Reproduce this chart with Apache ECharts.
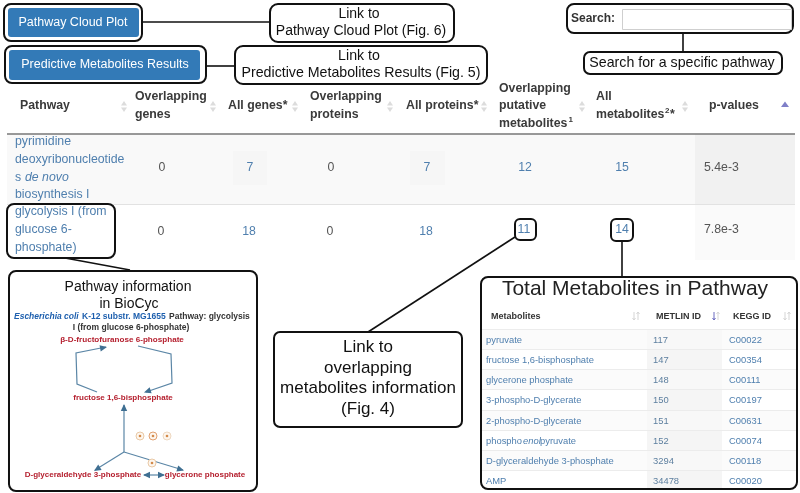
<!DOCTYPE html>
<html>
<head>
<meta charset="utf-8">
<style>html,body{margin:0;padding:0;background:#fff}#c{width:800px;height:493px}</style>
<script src="https://cdn.jsdelivr.net/npm/echarts@6/dist/echarts.min.js"></script>
</head>
<body>
<div id="c"></div>
<script>
// ---------- data ----------
const buttonLabels = ['Pathway Cloud Plot', 'Predictive Metabolites Results'];
const calloutCloud = ['Link to', 'Pathway Cloud Plot (Fig. 6)'];
const calloutPredictive = ['Link to', 'Predictive Metabolites Results (Fig. 5)'];
const calloutOverlap = ['Link to', 'overlapping', 'metabolites information', '(Fig. 4)'];
const searchLabel = 'Search:';
const searchHint = 'Search for a specific pathway';
const overlappingGenes = ['0', '0'];
const allGenes = ['7', '18'];
const overlappingProteins = ['0', '0'];
const allProteins = ['7', '18'];
const overlappingMetabolites = ['12', '11'];
const allMetabolites = ['15', '14'];
const pValues = ['5.4e-3', '7.8e-3'];
const biocycTitle = ['Pathway information', 'in BioCyc'];
const totalTitle = 'Total Metabolites in Pathway';
const metaboliteHeaders = ['Metabolites', 'METLIN ID', 'KEGG ID'];
const metaboliteNames = ['pyruvate', 'fructose 1,6-bisphosphate', 'glycerone phosphate', '3-phospho-D-glycerate', '2-phospho-D-glycerate', 'phosphoenolpyruvate', 'D-glyceraldehyde 3-phosphate', 'AMP'];
const metlinIds = ['117', '147', '148', '150', '151', '152', '3294', '34478'];
const keggIds = ['C00022', 'C00354', 'C00111', 'C00197', 'C00631', 'C00074', 'C00118', 'C00020'];

// ---------- drawing helpers ----------
const FONT = '"Liberation Sans", Arial, sans-serif';
const BLUE = '#337ab7', LINK = '#4f7fae', BODY = '#555555', HEAD = '#3a3a3a', INK = '#111111', RED = '#b5202f';
const g = [];
function T(x, y, text, o) {
  o = o || {};
  g.push({ type: 'text', x: x, y: y, z: 10, style: {
    text: text, fill: o.c || INK, align: o.a || 'left', verticalAlign: 'middle',
    font: (o.i ? 'italic ' : '') + (o.b ? 'bold ' : '') + (o.s || 12.3) + 'px ' + FONT
  }});
}
function R(x, y, w, h, o) {
  o = o || {};
  g.push({ type: 'rect', z: o.z || 3, shape: { x: x, y: y, width: w, height: h, r: o.r || 0 }, style: {
    fill: o.f === undefined ? 'none' : o.f, stroke: o.st || null, lineWidth: o.lw || 0
  }});
}
function Box(x, y, w, h, r, f) { R(x, y, w, h, { r: r === undefined ? 7 : r, st: '#111', lw: 2, f: f === undefined ? '#fff' : f, z: 4 }); }
function L(pts, c, lw, z) {
  g.push({ type: 'polyline', z: z || 2, shape: { points: pts }, style: { stroke: c || '#111', lineWidth: lw || 1.6, fill: 'none' } });
}
function Tri(pts, c, z) { g.push({ type: 'polygon', z: z || 6, shape: { points: pts }, style: { fill: c } }); }
function Head(x, y, fromX, fromY, c) {
  const a = Math.atan2(y - fromY, x - fromX), s = 7, w = 3.2;
  const bx = x - s * Math.cos(a), by = y - s * Math.sin(a);
  Tri([[x, y], [bx - w * Math.sin(a), by + w * Math.cos(a)], [bx + w * Math.sin(a), by - w * Math.cos(a)]], c, 7);
}
function SortIcon(x, y) {
  Tri([[x - 3, y - 1], [x + 3, y - 1], [x, y - 5.5]], '#dcdcdc');
  Tri([[x - 3, y + 1], [x + 3, y + 1], [x, y + 5.5]], '#dcdcdc');
}
function MiniSort(x, y, c) {
  L([[x, y - 4], [x, y + 4]], c, 1, 6); L([[x - 1.5, y + 2], [x, y + 4], [x + 1.5, y + 2]], c, 1, 6);
  L([[x + 4, y - 4], [x + 4, y + 4]], '#d5d5d5', 1, 6); L([[x + 2.5, y - 2], [x + 4, y - 4], [x + 5.5, y - 2]], '#d5d5d5', 1, 6);
}

// ---------- table backgrounds ----------
R(7, 134, 788, 70, { f: '#f9f9f9', z: 1 });
R(695, 134, 100, 70, { f: '#f1f1f1', z: 1 });
R(695, 205, 100, 55, { f: '#fafafa', z: 1 });
R(233, 151, 34, 34, { f: '#f6f6f6', z: 1 });
R(410, 151, 35, 34, { f: '#f6f6f6', z: 1 });
L([[7, 134], [795, 134]], '#777', 1.4, 2);
L([[7, 204.5], [795, 204.5]], '#e2e2e2', 1, 2);

// ---------- connectors ----------
L([[142, 22], [270, 22]]);
L([[206, 66], [235, 66]]);
L([[683, 33], [683, 52]]);
L([[65, 258], [130, 270]]);
L([[515, 237], [368, 332]]);
L([[622, 241], [622, 277]]);

// ---------- top buttons and callouts ----------
Box(4, 4, 138, 37, 7);
R(8, 8, 131, 29, { f: BLUE, r: 3, z: 5 });
T(73, 22.5, buttonLabels[0], { a: 'center', s: 12.5, c: '#fff' });
Box(5, 46, 201, 37, 7);
R(9, 50, 191, 30, { f: BLUE, r: 3, z: 5 });
T(105, 65, buttonLabels[1], { a: 'center', s: 12.5, c: '#fff' });

Box(270, 4, 184, 38, 8);
T(359, 14, calloutCloud[0], { a: 'center', s: 14 });
T(361, 31, calloutCloud[1], { a: 'center', s: 14 });
Box(235, 46, 252, 38, 8);
T(359, 56, calloutPredictive[0], { a: 'center', s: 14.2 });
T(361, 73, calloutPredictive[1], { a: 'center', s: 14.2 });

Box(567, 4, 226, 29, 7);
T(571, 18.5, searchLabel, { b: true, s: 12, c: '#333' });
R(622.5, 9.5, 169, 20, { f: '#fff', st: '#cfcfcf', lw: 1, z: 5 });
Box(584, 52, 198, 22, 6);
T(682, 63, searchHint, { a: 'center', s: 14.2 });

// ---------- table header ----------
const H = { b: true, s: 12.3, c: HEAD };
T(20, 106, 'Pathway', H);
T(135, 97, 'Overlapping', H); T(135, 115, 'genes', H);
T(228, 106, 'All genes*', H);
T(310, 97, 'Overlapping', H); T(310, 115, 'proteins', H);
T(406, 106, 'All proteins*', H);
T(499, 89, 'Overlapping', H); T(499, 106, 'putative', H); T(499, 124, 'metabolites', H);
T(568.5, 120, '1', { b: true, s: 8, c: HEAD });
T(596, 97, 'All', H); T(596, 115, 'metabolites', H);
T(665, 111, '2', { b: true, s: 8, c: HEAD });
T(670, 115, '*', H);
T(709, 106, 'p-values', H);
[124, 213, 295, 390, 484, 582, 685].forEach(function (x) { SortIcon(x, 106.5); });
Tri([[781, 107], [789, 107], [785, 101.5]], '#7f7fc8');

// ---------- table body ----------
T(15, 142, 'pyrimidine', { c: LINK });
T(15, 160, 'deoxyribonucleotide', { c: LINK });
T(15, 178, 's', { c: LINK });
T(25, 178, 'de novo', { c: LINK, i: true });
T(15, 195, 'biosynthesis I', { c: LINK });
T(15, 212, 'glycolysis I (from', { c: LINK });
T(15, 230, 'glucose 6-', { c: LINK });
T(15, 248, 'phosphate)', { c: LINK });
const rowY = [168, 232];
[0, 1].forEach(function (i) {
  const y = rowY[i];
  T(162 - i, y, overlappingGenes[i], { a: 'center', c: BODY });
  T(250 - i, y, allGenes[i], { a: 'center', c: LINK });
  T(331 - i, y, overlappingProteins[i], { a: 'center', c: BODY });
  T(427 - i, y, allProteins[i], { a: 'center', c: LINK });
  T(525 - i, y - 2 * i, overlappingMetabolites[i], { a: 'center', c: LINK });
  T(622, y - 2 * i, allMetabolites[i], { a: 'center', c: LINK });
  T(704, y - 2 * i, pValues[i], { c: BODY });
});
R(7, 204, 108, 54, { r: 7, st: '#111', lw: 2, z: 9 });
R(515, 219, 21, 21, { r: 5, st: '#111', lw: 2, z: 9 });
R(611, 219, 22, 22, { r: 5, st: '#111', lw: 2, z: 9 });

// ---------- BioCyc panel ----------
Box(9, 271, 248, 220, 7);
T(128, 287, biocycTitle[0], { a: 'center', s: 14 });
T(129, 304, biocycTitle[1], { a: 'center', s: 14 });
T(14, 317, 'Escherichia coli', { s: 8.5, b: true, i: true, c: '#1d5fae' });
T(82, 317, 'K-12 substr. MG1655', { s: 8.5, b: true, c: '#1d5fae' });
T(169, 317, 'Pathway: glycolysis', { s: 8.5, b: true, c: '#333' });
T(131, 328, 'I (from glucose 6-phosphate)', { s: 8.5, b: true, a: 'center', c: '#333' });
T(122, 340, 'β-D-fructofuranose 6-phosphate', { s: 8.1, b: true, a: 'center', c: RED });
T(123, 398, 'fructose 1,6-bisphosphate', { s: 8, b: true, a: 'center', c: RED });
T(83, 475, 'D-glyceraldehyde 3-phosphate', { s: 8, b: true, a: 'center', c: RED });
T(205, 475, 'glycerone phosphate', { s: 8, b: true, a: 'center', c: RED });
const AR = '#5b86a6';
L([[97, 392], [77, 384], [76, 353], [106, 347]], AR, 1.2, 6); Head(107, 347, 76, 353, '#3f6f92');
L([[138, 346], [171, 354], [172, 383], [146, 392]], AR, 1.2, 6); Head(144, 392.5, 172, 383, '#3f6f92');
L([[124, 452], [124, 405]], AR, 1.2, 6); Head(124, 404, 124, 452, '#3f6f92');
L([[124, 452], [95, 470]], AR, 1.2, 6); Head(94, 471, 124, 452, '#3f6f92');
L([[124, 452], [183, 470]], AR, 1.2, 6); Head(184, 470.5, 124, 452, '#3f6f92');
L([[144, 475], [164, 475]], AR, 1.2, 6); Head(143, 475, 160, 475, '#3f6f92'); Head(165, 475, 148, 475, '#3f6f92');
[[140, 436, '#e9c9a6'], [153, 436, '#e0a070'], [167, 436, '#eed8c0'], [152, 463, '#e9c9a6']].forEach(function (p) {
  g.push({ type: 'circle', z: 6, shape: { cx: p[0], cy: p[1], r: 4 }, style: { fill: '#fdf6ee', stroke: p[2], lineWidth: 1 } });
  g.push({ type: 'circle', z: 7, shape: { cx: p[0], cy: p[1], r: 1.3 }, style: { fill: '#d48a4a' } });
});

// ---------- overlap callout ----------
Box(274, 332, 188, 95, 6);
[347, 368, 388, 409].forEach(function (y, i) { T(368, y, calloutOverlap[i], { a: 'center', s: 17 }); });

// ---------- total metabolites panel ----------
Box(481, 277, 316, 212, 7);
T(635, 289, totalTitle, { a: 'center', s: 21, c: '#222' });
T(491, 317, metaboliteHeaders[0], { s: 9, b: true, c: '#333' });
T(656, 317, metaboliteHeaders[1], { s: 9, b: true, c: '#333' });
T(733, 317, metaboliteHeaders[2], { s: 9, b: true, c: '#333' });
MiniSort(634, 316, '#d5d5d5'); MiniSort(714, 316, '#6a6abf'); MiniSort(785, 316, '#d5d5d5');
const mY = [340, 360, 380, 400, 421, 441, 461, 481];
mY.forEach(function (y, i) {
  const h = i === 7 ? 17 : 20;
  if (i % 2 === 0) R(482, y - 10, 314, h, { f: '#fbfbfb', z: 5 });
  R(647, y - 10, 75, h, { f: i % 2 ? '#f5f5f5' : '#f8f8f8', z: 5 });
  L([[482, y - 10.5], [796, y - 10.5]], '#ececec', 1, 5);
  if (metaboliteNames[i] === 'phosphoenolpyruvate') {
    T(486, y, 'phospho', { s: 9.4, c: LINK }); T(523, y, 'enol', { s: 9.4, c: LINK, i: true }); T(540, y, 'pyruvate', { s: 9.4, c: LINK });
  } else {
    T(486, y, metaboliteNames[i], { s: 9.4, c: LINK });
  }
  T(653, y, metlinIds[i], { s: 9.4, c: '#5d7f9f' });
  T(729, y, keggIds[i], { s: 9.4, c: LINK });
});

const chart = echarts.init(document.getElementById('c'), null, { renderer: 'canvas', width: 800, height: 493 });
chart.setOption({ animation: false, backgroundColor: '#ffffff', graphic: { elements: g } });
</script>
</body>
</html>
